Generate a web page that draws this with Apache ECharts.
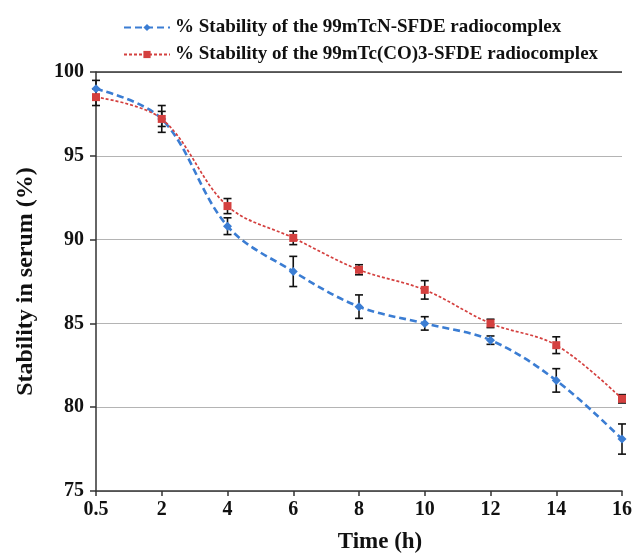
<!DOCTYPE html>
<html>
<head>
<meta charset="utf-8">
<script src="https://cdn.jsdelivr.net/npm/echarts@6/dist/echarts.min.js"></script>
<style>
  html, body { margin: 0; padding: 0; background: #fff; }
  #chart { width: 636px; height: 559px; }
</style>
</head>
<body>
<div id="chart"></div>
<script>
// Sampling times (h)
const hours = ['0.5', '2', '4', '6', '8', '10', '12', '14', '16'];

// % stability of the 99mTcN-SFDE radiocomplex, mean and error
const tcnStability = [99.0, 97.2, 90.8, 88.1, 86.0, 85.0, 84.0, 81.6, 78.1];
const tcnError = [0.5, 0.8, 0.5, 0.9, 0.7, 0.4, 0.25, 0.7, 0.9];

// % stability of the 99mTc(CO)3-SFDE radiocomplex, mean and error
const tcCoStability = [98.5, 97.2, 92.0, 90.1, 88.2, 87.0, 85.0, 83.7, 80.5];
const tcCoError = [0.5, 0.45, 0.45, 0.4, 0.3, 0.55, 0.25, 0.5, 0.25];

// Y axis range / ticks
const yMin = 75, yMax = 100, yStep = 5;

const seriesNames = [
  '% Stability of the 99mTcN-SFDE radiocomplex',
  '% Stability of the 99mTc(CO)3-SFDE radiocomplex'
];

const BLUE = '#3b7dd3';
const RED = '#d4403f';
const AXIS = '#333';
const FONT = "'Liberation Serif', 'Times New Roman', serif";

function errorRows(means, errs) {
  return means.map((m, i) => [i, m - errs[i], m + errs[i]]);
}

// vertical whisker with a cap at each end
function renderErrorBar(params, api) {
  const lo = api.coord([api.value(0), api.value(1)]);
  const hi = api.coord([api.value(0), api.value(2)]);
  const half = 4;
  const style = { stroke: '#111', lineWidth: 1.6 };
  return {
    type: 'group',
    children: [
      { type: 'line', shape: { x1: hi[0], y1: hi[1], x2: lo[0], y2: lo[1] }, style },
      { type: 'line', shape: { x1: hi[0] - half, y1: hi[1], x2: hi[0] + half, y2: hi[1] }, style },
      { type: 'line', shape: { x1: lo[0] - half, y1: lo[1], x2: lo[0] + half, y2: lo[1] }, style }
    ]
  };
}

const chart = echarts.init(document.getElementById('chart'), null, { renderer: 'canvas' });

chart.setOption({
  backgroundColor: '#fff',
  animation: false,
  textStyle: { fontFamily: FONT },
  legend: {
    data: seriesNames,
    orient: 'vertical',
    left: 118,
    top: 13,
    itemGap: 8,
    itemWidth: 46,
    itemHeight: 9,
    textStyle: { fontFamily: FONT, fontWeight: 'bold', fontSize: 19, color: '#111' }
  },
  grid: { left: 96, right: 14, top: 72, bottom: 57, containLabel: false },
  xAxis: {
    type: 'category',
    data: hours,
    boundaryGap: false,
    name: 'Time (h)',
    nameLocation: 'middle',
    nameGap: 40,
    nameTextStyle: { fontFamily: FONT, fontWeight: 'bold', fontSize: 23, color: '#111', padding: [0, 0, 0, 42] },
    axisLine: { lineStyle: { color: AXIS, width: 1.5 } },
    axisTick: { show: true, alignWithLabel: true, length: 5, lineStyle: { color: AXIS, width: 1.5 } },
    axisLabel: { fontFamily: FONT, fontWeight: 'bold', fontSize: 20, color: '#111', margin: 9 },
    splitLine: { show: false }
  },
  yAxis: {
    type: 'value',
    min: yMin,
    max: yMax,
    interval: yStep,
    name: 'Stability in serum (%)',
    nameLocation: 'middle',
    nameGap: 58,
    nameTextStyle: { fontFamily: FONT, fontWeight: 'bold', fontSize: 24, color: '#111' },
    axisLine: { show: true, lineStyle: { color: AXIS, width: 1.5 } },
    axisTick: { show: true, length: 6, lineStyle: { color: AXIS, width: 1.5 } },
    axisLabel: { fontFamily: FONT, fontWeight: 'bold', fontSize: 20, color: '#111', margin: 12 },
    splitLine: { show: true, lineStyle: { color: '#b4b4b4', width: 1.2 } }
  },
  series: [
    {
      name: seriesNames[0] + ' error',
      type: 'custom',
      renderItem: renderErrorBar,
      data: errorRows(tcnStability, tcnError),
      encode: { x: 0, y: [1, 2] },
      z: 3,
      silent: true
    },
    {
      name: seriesNames[1] + ' error',
      type: 'custom',
      renderItem: renderErrorBar,
      data: errorRows(tcCoStability, tcCoError),
      encode: { x: 0, y: [1, 2] },
      z: 3,
      silent: true
    },
    {
      name: seriesNames[0],
      type: 'line',
      data: tcnStability,
      smooth: 0.35,
      symbol: 'diamond',
      symbolSize: 9,
      itemStyle: { color: BLUE },
      lineStyle: { color: BLUE, width: 2.6, type: [7, 4] },
      z: 4,
      markLine: {
        silent: true,
        symbol: 'none',
        label: { show: false },
        lineStyle: { color: AXIS, width: 1.5, type: 'solid' },
        data: [{ yAxis: yMax }]
      }
    },
    {
      name: seriesNames[1],
      type: 'line',
      data: tcCoStability,
      smooth: 0.35,
      symbol: 'rect',
      symbolSize: 8,
      itemStyle: { color: RED },
      lineStyle: { color: RED, width: 1.7, type: [3, 2] },
      z: 5
    }
  ]
});
</script>
</body>
</html>
